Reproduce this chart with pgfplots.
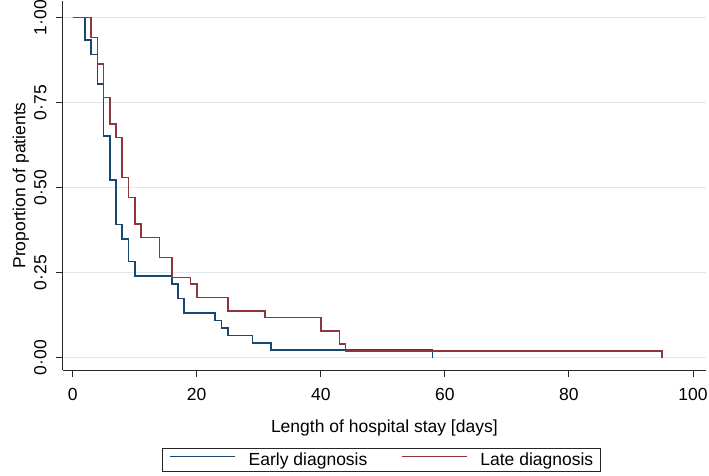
\documentclass[border=0pt]{standalone}
\usepackage{fontspec}
\setmainfont{Liberation Sans}
\usepackage{pgfplots}
\pgfplotsset{compat=1.18}
\definecolor{stnavy}{RGB}{26,71,111}
\definecolor{stmaroon}{RGB}{144,53,59}
\definecolor{stgrid}{RGB}{222,231,236}
\begin{document}
\begin{tikzpicture}[font=\fontsize{17.5}{21}\selectfont]
\begin{axis}[
  at={(0pt,0pt)}, anchor=south west,
  scale only axis, width=643.3pt, height=369.3pt,
  xmin=-1.6, xmax=102.1, ymin=-0.0368, ymax=1.0491,
  axis x line*=bottom, axis y line*=left,
  axis line style={black!85, line width=0.9pt},
  xtick={0,20,40,60,80,100},
  ytick={0,0.25,0.5,0.75,1},
  yticklabels={0·00,0·25,0·50,0·75,1·00},
  tick align=outside, major tick length=7pt,
  tick style={black!85, line width=0.9pt},
  ymajorgrids, grid style={stgrid, line width=0.9pt},
  /pgf/number format/assume math mode=true,
  xticklabel style={anchor=base, inner sep=0pt, yshift=-22.9pt},
  yticklabel style={xshift=-9pt, rotate=90, anchor=south, inner sep=0pt},
  xlabel={Length of hospital stay [days]},
  ylabel={Proportion of patients},
  xlabel style={at={(axis description cs:0.5,0)}, anchor=base, yshift=-62.4pt, inner sep=0pt},
  ylabel style={at={([xshift=-37.2pt]axis description cs:0,0.5)}, anchor=base, inner sep=0pt},
  legend columns=2,
  legend image code/.code={\draw[#1, line width=1pt] (0pt,4pt) -- (65pt,4pt);},
  legend style={at={([xshift=-3pt]axis description cs:0.5,0)}, anchor=north, yshift=-78pt,
    draw=black!85, line width=0.9pt, inner xsep=7.4pt, inner ysep=3pt,
    nodes={inner xsep=0pt, inner ysep=1.5pt},
    /tikz/every odd column/.append style={column sep=13.3pt},
    /tikz/every even column/.append style={column sep=33.7pt}},
]
\addplot[const plot, stnavy, line width=1.7pt] coordinates {
(0,1) (2,0.9348) (3,0.8913) (4,0.8043) (5,0.6522) (6,0.5217) (7,0.3913)
(8,0.3478) (9,0.2826) (10,0.2391) (16,0.2174) (17,0.1739) (18,0.1304)
(23,0.1087) (24,0.0870) (25,0.0652) (29,0.0435) (32,0.0217) (58,0)};
\addlegendentry{Early diagnosis}
\addplot[const plot, stmaroon, line width=1.7pt] coordinates {
(0,1) (3,0.9412) (4,0.8627) (5,0.7647) (6,0.6863) (7,0.6471) (8,0.5294)
(9,0.4706) (10,0.3922) (11,0.3529) (14,0.2941) (16,0.2353) (19,0.2157)
(20,0.1765) (25,0.1373) (31,0.1176) (40,0.0784) (43,0.0392) (44,0.0196) (95,0)};
\addlegendentry{Late diagnosis}
\end{axis}
\path[use as bounding box] (-62.7pt,-105.7pt) rectangle (646.3pt,369.3pt);
\end{tikzpicture}
\end{document}
